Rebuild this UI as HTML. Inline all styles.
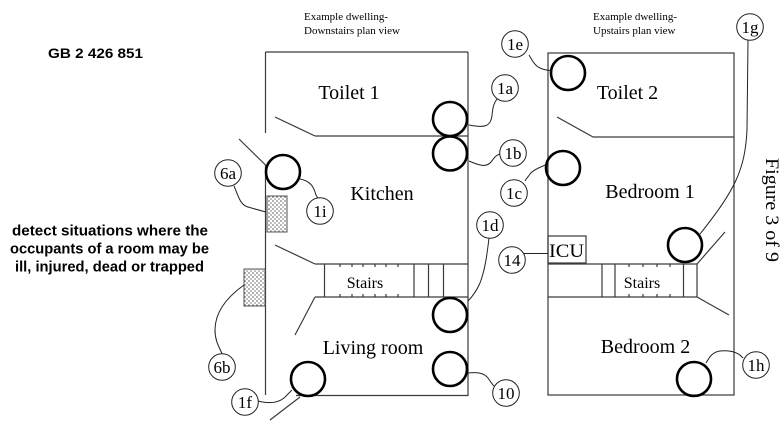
<!DOCTYPE html>
<html>
<head>
<meta charset="utf-8">
<style>
  html,body{margin:0;padding:0;background:#fff;}
  svg{display:block;}
  .serif{font-family:"Liberation Serif","DejaVu Serif",serif;fill:#000;}
  .sans{font-family:"Liberation Sans","DejaVu Sans",sans-serif;font-weight:bold;fill:#000;}
</style>
</head>
<body>
<svg width="784" height="431" viewBox="0 0 784 431" xmlns="http://www.w3.org/2000/svg">
  <defs>
    <pattern id="dots" width="4" height="4" patternUnits="userSpaceOnUse">
      <rect width="4" height="4" fill="#fff"/>
      <circle cx="1" cy="1" r="0.8" fill="#555"/>
      <circle cx="3" cy="3" r="0.8" fill="#777"/>
    </pattern>
  </defs>

  <!-- Left texts -->
  <text class="sans" x="48" y="58" font-size="14" textLength="95" lengthAdjust="spacingAndGlyphs">GB 2 426 851</text>
  <text class="sans" x="12" y="235.5" font-size="15" textLength="196" lengthAdjust="spacingAndGlyphs">detect situations where the</text>
  <text class="sans" x="10" y="253.5" font-size="15" textLength="199" lengthAdjust="spacingAndGlyphs">occupants of a room may be</text>
  <text class="sans" x="15" y="271.5" font-size="15" textLength="189" lengthAdjust="spacingAndGlyphs">ill, injured, dead or trapped</text>

  <!-- Headings -->
  <text class="serif" x="304" y="20" font-size="11">Example dwelling-</text>
  <text class="serif" x="304" y="34" font-size="11">Downstairs plan view</text>
  <text class="serif" x="593" y="20" font-size="11">Example dwelling-</text>
  <text class="serif" x="593" y="34" font-size="11">Upstairs plan view</text>

  <!-- Figure text rotated -->
  <text class="serif" font-size="19" transform="translate(766,158) rotate(90)" textLength="104" lengthAdjust="spacingAndGlyphs">Figure 3 of 9</text>

  <g stroke="#3a3a3a" stroke-width="1.2" fill="none">
    <!-- Downstairs walls -->
    <line x1="265.5" y1="52" x2="468" y2="52"/>
    <line x1="468" y1="52" x2="468" y2="396"/>
    <line x1="265.5" y1="52" x2="265.5" y2="133"/>
    <line x1="265.5" y1="165" x2="265.5" y2="395"/>
    <line x1="296" y1="395.5" x2="468" y2="395.5"/>
    <!-- toilet divider -->
    <line x1="315" y1="136" x2="468" y2="136"/>
    <line x1="275" y1="117" x2="315" y2="136"/>
    <!-- kitchen door -->
    <line x1="239" y1="139" x2="265.5" y2="165"/>
    <!-- stairs -->
    <line x1="315" y1="264" x2="468" y2="264"/>
    <line x1="315" y1="297" x2="468" y2="297"/>
    <line x1="275" y1="245" x2="315" y2="264"/>
    <line x1="295" y1="335" x2="315" y2="297"/>
    <line x1="324.5" y1="264" x2="324.5" y2="297"/>
    <line x1="414" y1="264" x2="414" y2="297"/>
    <line x1="428.5" y1="264" x2="428.5" y2="297"/>
    <line x1="443.5" y1="264" x2="443.5" y2="297"/>
    <!-- ticks -->
    <path d="M340,264v3M352,264v3M363,264v3M375,264v3M386,264v3M398,264v3M340,297v-3M352,297v-3M363,297v-3M375,297v-3M386,297v-3M398,297v-3"/>
    <!-- living room door -->
    <line x1="270" y1="420" x2="300" y2="397"/>

    <!-- Upstairs walls -->
    <rect x="548" y="53" width="186" height="342"/>
    <line x1="593" y1="137" x2="734" y2="137"/>
    <line x1="557" y1="117" x2="593" y2="137"/>
    <!-- stairs -->
    <line x1="548" y1="264" x2="697" y2="264"/>
    <line x1="548" y1="297" x2="697" y2="297"/>
    <line x1="602" y1="264" x2="602" y2="297"/>
    <line x1="615" y1="264" x2="615" y2="297"/>
    <line x1="683.5" y1="264" x2="683.5" y2="297"/>
    <line x1="697" y1="264" x2="697" y2="297"/>
    <path d="M629,264v3M643,264v3M657,264v3M670,264v3M629,297v-3M643,297v-3M657,297v-3M670,297v-3"/>
    <line x1="697" y1="264" x2="725" y2="232"/>
    <line x1="697" y1="297" x2="729" y2="315"/>
    <!-- ICU box -->
    <rect x="548" y="236" width="38" height="27"/>
  </g>

  <!-- sensor rects -->
  <rect x="267" y="196" width="20" height="36" fill="url(#dots)" stroke="#555" stroke-width="1"/>
  <rect x="244" y="269" width="21" height="37" fill="url(#dots)" stroke="#555" stroke-width="1"/>

  <!-- Room labels -->
  <text class="serif" x="349" y="99" font-size="20" text-anchor="middle">Toilet 1</text>
  <text class="serif" x="382" y="200" font-size="20" text-anchor="middle">Kitchen</text>
  <text class="serif" x="373" y="354" font-size="20" text-anchor="middle">Living room</text>
  <text class="serif" x="365" y="288" font-size="16" text-anchor="middle">Stairs</text>
  <text class="serif" x="627.5" y="99" font-size="20" text-anchor="middle">Toilet 2</text>
  <text class="serif" x="650" y="198" font-size="20" text-anchor="middle">Bedroom 1</text>
  <text class="serif" x="645.5" y="353" font-size="20" text-anchor="middle">Bedroom 2</text>
  <text class="serif" x="642" y="288" font-size="16" text-anchor="middle">Stairs</text>
  <text class="serif" x="549" y="257" font-size="19" textLength="35" lengthAdjust="spacingAndGlyphs">ICU</text>

  <!-- Connectors -->
  <g stroke="#222" stroke-width="1" fill="none">
    <path d="M469,125 C484,128 491,127 492,115 C493,106 494,103 497,99"/>
    <path d="M469,161 C478,165 486,168 491,162 C494,158 496,155 500,154"/>
    <path d="M300,179 C310,181 313,186 315,192 C316,196 317,197 318,198"/>
    <path d="M234,186 C238,195 240,205 248,207 C255,209 262,211 266,212"/>
    <path d="M244,285 C230,295 215,310 215,330 C215,342 220,348 222,354"/>
    <path d="M258,401 C270,404 278,403 284,398 C288,394 290,392 292,390"/>
    <path d="M489,238 C487,255 485,270 480,283 C476,292 472,297 468,301"/>
    <path d="M468,373 C478,372 484,373 488,378 C490,381 492,384 494,386"/>
    <path d="M529,55 C532,60 535,66 540,68 C544,70 548,70 552,71"/>
    <path d="M548,164 C540,167 533,170 530,174 C528,177 526,179 525,181"/>
    <path d="M524,253.5 L548,253.5"/>
    <path d="M748,40 L747,130 C745,170 735,190 700,234"/>
    <path d="M706,363 C710,356 713,352 720,351 C730,350 738,352 743,358"/>
  </g>

  <!-- Thick sensor circles -->
  <g stroke="#000" stroke-width="2.6" fill="none">
    <circle cx="450" cy="119" r="17"/>
    <circle cx="450" cy="153.5" r="17"/>
    <circle cx="283" cy="172" r="17"/>
    <circle cx="450" cy="315" r="17"/>
    <circle cx="450" cy="369" r="17"/>
    <circle cx="308" cy="379" r="17"/>
    <circle cx="568" cy="73" r="17"/>
    <circle cx="563" cy="168" r="17"/>
    <circle cx="685" cy="245" r="17"/>
    <circle cx="694" cy="379" r="17"/>
  </g>

  <!-- Label circles -->
  <g stroke="#222" stroke-width="1" fill="#fff">
    <circle cx="505" cy="88" r="13.3"/>
    <circle cx="513" cy="153" r="13.3"/>
    <circle cx="320" cy="211" r="13.3"/>
    <circle cx="228" cy="173" r="13.3"/>
    <circle cx="222" cy="367" r="13.3"/>
    <circle cx="245" cy="402" r="13.3"/>
    <circle cx="490" cy="225" r="13.3"/>
    <circle cx="506" cy="393" r="13.3"/>
    <circle cx="515" cy="44" r="13.3"/>
    <circle cx="514" cy="193" r="13.3"/>
    <circle cx="512" cy="260" r="13.3"/>
    <circle cx="750" cy="27" r="13.3"/>
    <circle cx="756" cy="365" r="13.3"/>
  </g>
  <g class="serif" font-size="17" text-anchor="middle">
    <text x="505" y="94">1a</text>
    <text x="513" y="159">1b</text>
    <text x="320" y="217">1i</text>
    <text x="228" y="179">6a</text>
    <text x="222" y="373">6b</text>
    <text x="245" y="408">1f</text>
    <text x="490" y="231">1d</text>
    <text x="506" y="399">10</text>
    <text x="515" y="50">1e</text>
    <text x="514" y="199">1c</text>
    <text x="512" y="266">14</text>
    <text x="750" y="33">1g</text>
    <text x="756" y="371">1h</text>
  </g>
</svg>
</body>
</html>
